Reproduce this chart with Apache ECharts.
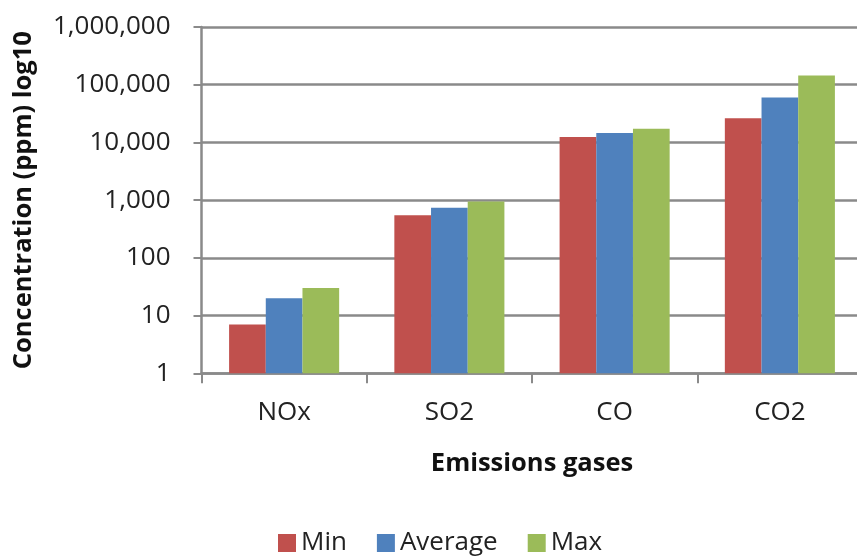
<!DOCTYPE html>
<html>
<head>
<meta charset="utf-8">
<script src="https://cdn.jsdelivr.net/npm/echarts@6/dist/echarts.min.js"></script>
<style>
  html, body { margin: 0; padding: 0; background: #fff; }
  #chart { width: 857px; height: 559px; }
</style>
</head>
<body>
<div id="chart"></div>
<script>
// Emission gas concentrations (ppm), shown on a log10 scale
const categories = ['NOx', 'SO2', 'CO', 'CO2'];
const minValues = [7, 550, 12400, 26300];
const avgValues = [20, 740, 14500, 60000];
const maxValues = [30, 950, 17200, 145000];
const seriesNames = ['Min', 'Average', 'Max'];
const seriesColors = ['#C0504D', '#4F81BD', '#9BBB59'];

const FONT = '"Open Sans", sans-serif';
const GRID_GREY = '#8a8a8a';

const chart = echarts.init(document.getElementById('chart'), null, { renderer: 'canvas' });

const seriesData = [minValues, avgValues, maxValues];

chart.setOption({
  animation: false,
  backgroundColor: '#ffffff',
  textStyle: { fontFamily: FONT },
  // plot area runs slightly past the right edge of the canvas
  grid: {
    left: 201.5, width: 661, top: 27, bottom: 185.7,
    containLabel: false,
    outerBoundsMode: 'none'
  },
  legend: {
    data: seriesNames,
    top: 525,
    left: 273,
    itemWidth: 18,
    itemHeight: 18,
    itemGap: 30,
    icon: 'rect',
    textStyle: { fontFamily: FONT, fontSize: 26, color: '#222' }
  },
  xAxis: {
    type: 'category',
    data: categories,
    name: 'Emissions gases',
    nameLocation: 'middle',
    nameGap: 77,
    nameTextStyle: { fontFamily: FONT, fontSize: 25.5, fontWeight: 'bold', color: '#111' },
    axisLine: { lineStyle: { color: GRID_GREY, width: 2.5 } },
    axisTick: { show: true, length: 10, lineStyle: { color: GRID_GREY, width: 2 } },
    axisLabel: { margin: 26, fontFamily: FONT, fontSize: 26, color: '#222' },
    splitLine: { show: false }
  },
  yAxis: {
    type: 'log',
    logBase: 10,
    min: 1,
    max: 1000000,
    name: 'Concentration (ppm) log10',
    nameLocation: 'middle',
    nameRotate: 90,
    nameGap: 165,
    nameTextStyle: { fontFamily: FONT, fontSize: 25.5, fontWeight: 'bold', color: '#111' },
    axisLine: { show: true, lineStyle: { color: GRID_GREY, width: 2.5 } },
    axisTick: { show: true, length: 8, lineStyle: { color: GRID_GREY, width: 2 } },
    axisLabel: {
      margin: 31,
      fontFamily: FONT,
      fontSize: 26,
      color: '#222',
      formatter: v => Math.round(v).toLocaleString('en-US')
    },
    splitLine: { show: true, lineStyle: { color: GRID_GREY, width: 2.5 } },
    minorTick: { show: false },
    minorSplitLine: { show: false }
  },
  series: seriesNames.map((name, i) => ({
    name: name,
    type: 'bar',
    data: seriesData[i],
    barGap: '0%',
    barCategoryGap: '33.4%',
    itemStyle: { color: seriesColors[i] }
  }))
});
</script>
</body>
</html>
